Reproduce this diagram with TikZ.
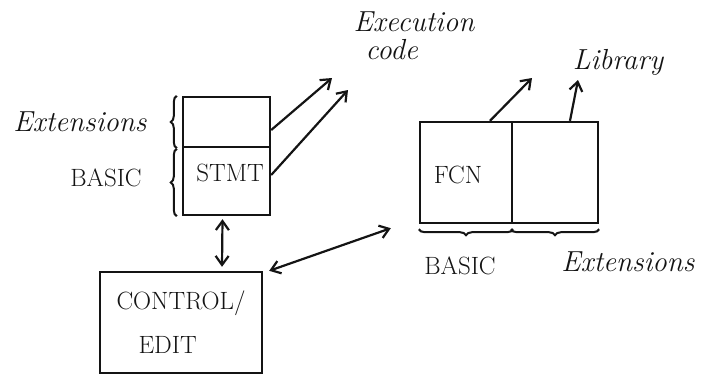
\documentclass[tikz,border=0pt]{standalone}
\usepackage{fontspec}
\usepackage{xcolor}
\usepackage{tikz}
\usetikzlibrary{positioning,arrows.meta,decorations.pathreplacing}
\definecolor{ink}{RGB}{20,20,20}

\begin{document}
\begin{tikzpicture}[x=1pt,y=-1pt,
  cell/.style={draw=ink, line width=2.4pt, inner sep=0pt},
  hand/.style={font=\fontsize{29}{28}\selectfont\itshape, text=ink, align=left},
  caps/.style={font=\fontsize{25}{44}\selectfont, text=ink, align=left},
  link/.style={draw=ink, line width=2.2pt, -{Straight Barb[length=9pt,width=13pt,line width=2.2pt]}},
  both/.style={link, {Straight Barb[length=9pt,width=13pt,line width=2.2pt]}-{Straight Barb[length=9pt,width=13pt,line width=2.2pt]}},
  curly/.style={draw=ink, line width=2pt, decorate, decoration={brace, amplitude=6pt}}]
\useasboundingbox (0,0) rectangle (702,373);

% statement table
\node[cell, minimum width=87pt, minimum height=50pt] (ext) at (226.5,122) {};
\node[cell, minimum width=87pt, minimum height=68pt] (stmt) at (226.5,181) {};
\node[caps] (stmtlbl) at (230,173) {STMT};
\draw[curly] ([xshift=-5pt]ext.south west) -- ([xshift=-5pt]ext.north west);
\draw[curly] ([xshift=-5pt]stmt.south west) -- ([xshift=-5pt,yshift=-3pt]stmt.north west);
\node[hand] (extlbl) at (80,122) {Extensions};
\node[caps] (basiclbl) at (106,178) {BASIC};

% execution code
\node[hand] (exec) at (414,36) {Execution\\\hspace*{12pt}code};
\coordinate (exectip1) at (332,78);
\coordinate (exectip2) at (348,90);
\draw[link] ([yshift=-8pt]ext.east) -- (exectip1);
\draw[link] ([yshift=6pt]stmt.east) -- (exectip2);

% control / edit
\node[cell, minimum width=162pt, minimum height=101pt, caps] (ctrl) at (181,322.5) {CONTROL/\\\hspace*{22pt}EDIT};
\draw[both] ([xshift=-4pt,yshift=-3pt]stmt.south) -- ([xshift=41pt,yshift=4pt]ctrl.north);

% function table
\node[cell, minimum width=92pt, minimum height=101pt] (fcn) at (466,172.5) {};
\node[cell, minimum width=86pt, minimum height=101pt] (libx) at (555,172.5) {};
\node[caps] (fcnlbl) at (458,175) {FCN};
\draw[both] ([xshift=6pt]ctrl.north east) -- ([shift={(-28pt,-4pt)}]fcn.south west);
\draw[curly] ([yshift=-5pt]fcn.south east) -- ([yshift=-5pt]fcn.south west);
\draw[curly] ([yshift=-5pt]libx.south east) -- ([yshift=-5pt]libx.south west);
\node[caps] (basiclbl2) at (460,266) {BASIC};
\node[hand] (extlbl2) at (628,262) {Extensions};

% library
\node[hand] (lib) at (618,62) {Library};
\coordinate (libtip1) at (532,78);
\coordinate (libtip2) at (578,80);
\draw[link] ([xshift=24pt]fcn.north) -- (libtip1);
\draw[link] ([xshift=15pt]libx.north) -- (libtip2);
\end{tikzpicture}
\end{document}
